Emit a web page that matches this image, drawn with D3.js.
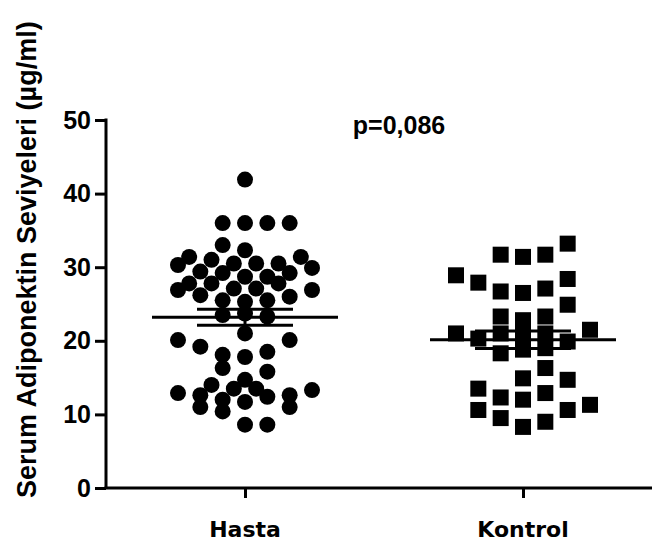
<!DOCTYPE html>
<html>
<head>
<meta charset="utf-8">
<script src="https://d3js.org/d3.v7.min.js"></script>
<style>
body { margin: 0; background: #fff; }
.axis path, .axis line { stroke: #000; stroke-width: 3px; fill: none; }
.axis text { font-family: "Liberation Sans", Arial, sans-serif; font-weight: bold; font-size: 25px; fill: #000; }
.cat-label { font-family: "DejaVu Sans", sans-serif; font-weight: bold; font-size: 22px; }
</style>
</head>
<body>
<div id="chart"></div>
<script>
// groups on the x axis
var categories = ["Hasta", "Kontrol"];
var yTicks = [0, 10, 20, 30, 40, 50];

// Hasta values (µg/ml) and column slot for the scatter spread
var hastaValues = [41.9, 36.0, 36.0, 36.0, 36.0, 33.0, 32.3, 31.4, 31.4, 30.3,
    31.0, 30.5, 30.5, 30.5, 29.9, 29.4, 29.2, 28.7, 28.7, 29.2,
    27.8, 26.9, 27.8, 27.1, 27.1, 27.8, 26.9, 26.2, 25.5, 25.3,
    25.5, 26.0, 23.5, 23.7, 23.3, 21.0, 20.1, 19.2, 20.1, 18.1,
    16.3, 17.8, 18.5, 15.8, 14.7, 12.9, 12.6, 14.0, 13.5, 13.5,
    12.4, 12.6, 13.3, 11.0, 12.0, 10.4, 11.7, 11.0, 8.6, 8.6];
var hastaSlots = [0, -2, 0, 2, 4, -2, 0, 5, -5, -6,
    -3, -1, 1, 3, 6, -4, -2, 0, 2, 4,
    -5, -6, -3, -1, 1, 3, 6, -4, -2, 0,
    2, 4, -2, 0, 2, 0, -6, -4, 4, -2,
    -2, 0, 2, 2, 0, -6, -4, -3, -1, 1,
    2, 4, 6, -4, -2, -2, 0, 4, 0, 2];

// Kontrol values (µg/ml)
var kontrolValues = [33.2, 31.7, 31.4, 31.7, 28.9, 27.9, 26.7, 26.5, 27.1, 28.4,
    24.9, 23.3, 22.8, 23.3, 21.0, 21.5, 20.3, 21.0, 20.8, 21.0,
    19.9, 18.3, 18.8, 19.0, 16.3, 14.9, 14.7, 13.5, 12.3, 12.0,
    12.9, 11.3, 10.6, 9.5, 8.3, 9.0, 10.6];
var kontrolSlots = [4, -2, 0, 2, -6, -4, -2, 0, 2, 4,
    4, -2, 0, 2, -6, 6, -4, -2, 0, 2,
    4, -2, 0, 2, 2, 0, 4, -4, -2, 0,
    2, 6, -4, -2, 0, 2, 4];

var pText = "p=0,086";
var yTitle = "Serum Adiponektin Seviyeleri  (\u00b5g/ml)";

var width = 658, height = 548;
var svg = d3.select("#chart").append("svg")
    .attr("width", width)
    .attr("height", height);

var y = d3.scaleLinear().domain([0, 50]).range([488, 120]);
var x = d3.scalePoint().domain(categories).range([245, 523]);
var jitter = d3.scaleLinear().domain([-6, 6]).range([-67, 67]);

// y axis
svg.append("g")
    .attr("class", "axis")
    .attr("transform", "translate(106,0)")
    .call(d3.axisLeft(y).tickValues(yTicks).tickSize(11).tickSizeOuter(0).tickPadding(4))
    .select(".domain").attr("d", "M0," + (y(50) - 1.5) + "V" + y(0));

// x axis
var xg = svg.append("g")
    .attr("class", "axis")
    .attr("transform", "translate(0," + y(0) + ")")
    .call(d3.axisBottom(x).tickSize(10).tickSizeOuter(0).tickFormat(""));
xg.select(".domain").attr("d", "M104.5,0H652");

svg.selectAll(".cat-label")
    .data(categories)
    .enter().append("text")
    .attr("class", "cat-label")
    .attr("x", function(d) { return x(d); })
    .attr("y", 537)
    .attr("text-anchor", "middle")
    .text(function(d) { return d; });

// y title
svg.append("text")
    .attr("transform", "translate(36,498) rotate(-90)")
    .style("font-family", "'Liberation Sans', Arial, sans-serif")
    .style("font-weight", "bold")
    .style("font-size", "27px")
    .text(yTitle);

svg.append("text")
    .attr("x", 399)
    .attr("y", 134)
    .attr("text-anchor", "middle")
    .style("font-family", "'Liberation Sans', Arial, sans-serif")
    .style("font-weight", "bold")
    .style("font-size", "25px")
    .text(pText);

var hasta = hastaValues.map(function(v, i) { return {v: v, s: hastaSlots[i]}; });
var kontrol = kontrolValues.map(function(v, i) { return {v: v, s: kontrolSlots[i]}; });

svg.selectAll(".hasta")
    .data(hasta)
    .enter().append("circle")
    .attr("class", "hasta")
    .attr("cx", function(d) { return x("Hasta") + jitter(d.s); })
    .attr("cy", function(d) { return y(d.v); })
    .attr("r", 8)
    .attr("fill", "#000");

var sq = 16;
svg.selectAll(".kontrol")
    .data(kontrol)
    .enter().append("rect")
    .attr("class", "kontrol")
    .attr("x", function(d) { return x("Kontrol") + jitter(d.s) - sq / 2; })
    .attr("y", function(d) { return y(d.v) - sq / 2; })
    .attr("width", sq)
    .attr("height", sq)
    .attr("fill", "#000");

// mean and SEM
function drawMean(cat, vals) {
    var m = d3.mean(vals);
    var sem = d3.deviation(vals) / Math.sqrt(vals.length);
    var cx = x(cat);
    var g = svg.append("g").attr("stroke", "#000").attr("stroke-width", 3);
    g.append("line").attr("x1", cx - 93).attr("x2", cx + 93).attr("y1", y(m)).attr("y2", y(m));
    g.append("line").attr("x1", cx - 48).attr("x2", cx + 48).attr("y1", y(m + sem)).attr("y2", y(m + sem));
    g.append("line").attr("x1", cx - 48).attr("x2", cx + 48).attr("y1", y(m - sem)).attr("y2", y(m - sem));
    g.append("line").attr("x1", cx).attr("x2", cx).attr("y1", y(m + sem)).attr("y2", y(m - sem));
}
drawMean("Hasta", hastaValues);
drawMean("Kontrol", kontrolValues);
</script>
</body>
</html>
